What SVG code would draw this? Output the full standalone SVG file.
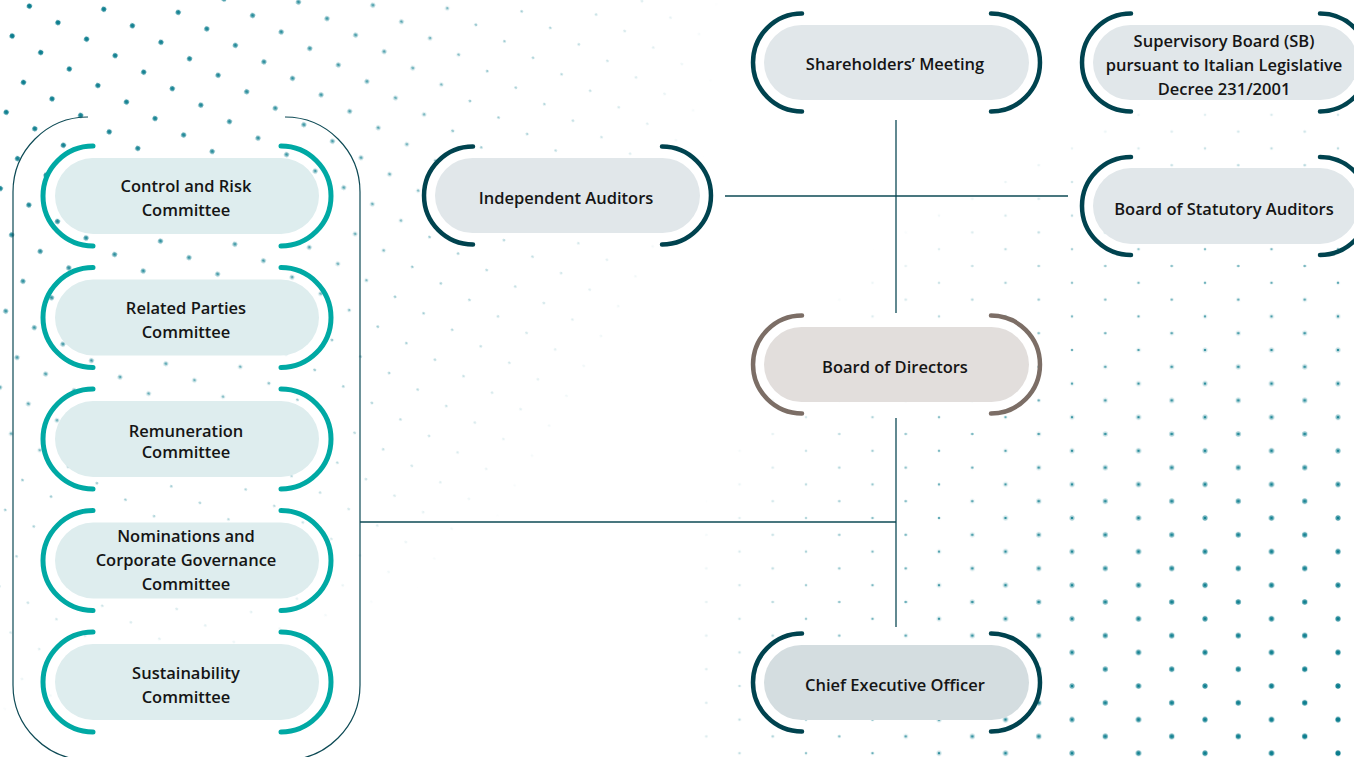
<svg xmlns="http://www.w3.org/2000/svg" width="1354" height="757" viewBox="0 0 1354 757">
<style>
.pill{stroke:none}
.p-dark{fill:#e1e7ea}
.p-ceo{fill:#d4dde0}
.p-bod{fill:#e2dedc}
.p-com{fill:#deedee}
.br{fill:none;stroke-linecap:round}
.br-dark{stroke:#00434f;stroke-width:4.5}
.br-bod{stroke:#7c6e66;stroke-width:4.5}
.br-com{stroke:#00a9a4;stroke-width:5}
.lbl{font-family:"Open Sans","Noto Sans","Liberation Sans",sans-serif;font-weight:600;font-size:16.5px;fill:#151515;text-anchor:middle;dominant-baseline:central}
.conn{stroke:#0d4a55;stroke-width:1.3;fill:none}
</style>
<defs>
<pattern id="tlSmall" width="33" height="34.5" patternUnits="userSpaceOnUse" patternTransform="rotate(30) translate(12,8)">
<circle cx="16.5" cy="17" r="1.2" fill="#087b8c"/>
</pattern>
<pattern id="tlBig" width="33" height="34.5" patternUnits="userSpaceOnUse" patternTransform="rotate(30) translate(12,8)">
<circle cx="16.5" cy="17" r="2.5" fill="#087b8c"/>
</pattern>
<pattern id="brSmall" width="66.5" height="33.6" patternUnits="userSpaceOnUse" patternTransform="translate(8,14)">
<circle cx="0" cy="0" r="1.3" fill="#087b8c"/>
<circle cx="66.5" cy="0" r="1.3" fill="#087b8c"/>
<circle cx="0" cy="33.6" r="1.3" fill="#087b8c"/>
<circle cx="66.5" cy="33.6" r="1.3" fill="#087b8c"/>
<circle cx="33.25" cy="16.8" r="1.3" fill="#087b8c"/>
</pattern>
<pattern id="brBig" width="66.5" height="33.6" patternUnits="userSpaceOnUse" patternTransform="translate(8,14)">
<circle cx="0" cy="0" r="2.6" fill="#087b8c"/>
<circle cx="66.5" cy="0" r="2.6" fill="#087b8c"/>
<circle cx="0" cy="33.6" r="2.6" fill="#087b8c"/>
<circle cx="66.5" cy="33.6" r="2.6" fill="#087b8c"/>
<circle cx="33.25" cy="16.8" r="2.6" fill="#087b8c"/>
</pattern>
<radialGradient id="gTLs" cx="0" cy="0" r="850" gradientUnits="userSpaceOnUse">
<stop offset="0" stop-color="#fff" stop-opacity="1"/>
<stop offset="0.45" stop-color="#fff" stop-opacity="0.65"/>
<stop offset="0.85" stop-color="#fff" stop-opacity="0"/>
</radialGradient>
<radialGradient id="gTLb" cx="0" cy="0" r="480" gradientUnits="userSpaceOnUse">
<stop offset="0" stop-color="#fff" stop-opacity="1"/>
<stop offset="0.4" stop-color="#fff" stop-opacity="0.8"/>
<stop offset="1" stop-color="#fff" stop-opacity="0"/>
</radialGradient>
<radialGradient id="gBRs" cx="1354" cy="757" r="700" gradientUnits="userSpaceOnUse">
<stop offset="0" stop-color="#fff" stop-opacity="1"/>
<stop offset="0.6" stop-color="#fff" stop-opacity="0.8"/>
<stop offset="1" stop-color="#fff" stop-opacity="0"/>
</radialGradient>
<radialGradient id="gBRb" cx="1354" cy="757" r="480" gradientUnits="userSpaceOnUse">
<stop offset="0" stop-color="#fff" stop-opacity="1"/>
<stop offset="0.5" stop-color="#fff" stop-opacity="0.7"/>
<stop offset="1" stop-color="#fff" stop-opacity="0"/>
</radialGradient>
<mask id="mTLs" maskUnits="userSpaceOnUse" x="0" y="0" width="1354" height="757"><rect width="1354" height="757" fill="url(#gTLs)"/></mask>
<mask id="mTLb" maskUnits="userSpaceOnUse" x="0" y="0" width="1354" height="757"><rect width="1354" height="757" fill="url(#gTLb)"/></mask>
<mask id="mBRs" maskUnits="userSpaceOnUse" x="0" y="0" width="1354" height="757"><rect width="1354" height="757" fill="url(#gBRs)"/></mask>
<mask id="mBRb" maskUnits="userSpaceOnUse" x="0" y="0" width="1354" height="757"><rect width="1354" height="757" fill="url(#gBRb)"/></mask>
</defs>
<rect width="1354" height="757" fill="#ffffff"/>
<g id="background-dots">
<rect width="1354" height="757" fill="url(#tlSmall)" mask="url(#mTLs)"/>
<rect width="1354" height="757" fill="url(#tlBig)" mask="url(#mTLb)"/>
<rect x="700" y="0" width="654" height="757" fill="url(#brSmall)" mask="url(#mBRs)"/>
<rect x="700" y="0" width="654" height="757" fill="url(#brBig)" mask="url(#mBRb)"/>
</g>
<g id="committees-container">
<path d="M88,117 A75,75 0 0 0 13,192 V685 A75,75 0 0 0 88,760 H285 A75,75 0 0 0 360,685 V192 A75,75 0 0 0 285,117" fill="none" stroke="#0d4a55" stroke-width="1.2"/>
</g>
<g id="connectors">
<line class="conn" x1="896" y1="120" x2="896" y2="313"/>
<line class="conn" x1="896" y1="418" x2="896" y2="627"/>
<line class="conn" x1="725" y1="196" x2="1068" y2="196"/>
<line class="conn" x1="360" y1="522" x2="896" y2="522"/>
</g>
<g id="shareholders-meeting">
<rect class="pill p-dark" x="764" y="25" width="265" height="75" rx="37.5"/>
<path class="br br-dark" d="M802,13.5 A49,49 0 0 0 802,111.5"/>
<path class="br br-dark" d="M991,13.5 A49,49 0 0 1 991,111.5"/>
<text class="lbl" x="895" y="63">Shareholders’ Meeting</text>
</g>
<g id="supervisory-board">
<rect class="pill p-dark" x="1093" y="25" width="265" height="75" rx="37.5"/>
<path class="br br-dark" d="M1131,13.5 A49,49 0 0 0 1131,111.5"/>
<path class="br br-dark" d="M1320,13.5 A49,49 0 0 1 1320,111.5"/>
<text class="lbl" x="1224" y="40">Supervisory Board (SB)</text>
<text class="lbl" x="1224" y="64">pursuant to Italian Legislative</text>
<text class="lbl" x="1224" y="88">Decree 231/2001</text>
</g>
<g id="independent-auditors">
<rect class="pill p-dark" x="435" y="158" width="265" height="75" rx="37.5"/>
<path class="br br-dark" d="M473,146.5 A49,49 0 0 0 473,244.5"/>
<path class="br br-dark" d="M662,146.5 A49,49 0 0 1 662,244.5"/>
<text class="lbl" x="566" y="197">Independent Auditors</text>
</g>
<g id="board-of-statutory-auditors">
<rect class="pill p-dark" x="1093" y="168" width="265" height="76" rx="38"/>
<path class="br br-dark" d="M1131,157 A49,49 0 0 0 1131,255"/>
<path class="br br-dark" d="M1320,157 A49,49 0 0 1 1320,255"/>
<text class="lbl" x="1224" y="208">Board of Statutory Auditors</text>
</g>
<g id="board-of-directors">
<rect class="pill p-bod" x="764" y="327" width="265" height="75" rx="37.5"/>
<path class="br br-bod" d="M802,315.5 A49,49 0 0 0 802,413.5"/>
<path class="br br-bod" d="M991,315.5 A49,49 0 0 1 991,413.5"/>
<text class="lbl" x="895" y="366">Board of Directors</text>
</g>
<g id="chief-executive-officer">
<rect class="pill p-ceo" x="764" y="645" width="265" height="75" rx="37.5"/>
<path class="br br-dark" d="M802,633.5 A49,49 0 0 0 802,731.5"/>
<path class="br br-dark" d="M991,633.5 A49,49 0 0 1 991,731.5"/>
<text class="lbl" x="895" y="684">Chief Executive Officer</text>
</g>
<g id="control-and-risk-committee">
<rect class="pill p-com" x="55" y="158" width="264" height="76" rx="38"/>
<path class="br br-com" d="M93,146 A50,50 0 0 0 93,246"/>
<path class="br br-com" d="M281,146 A50,50 0 0 1 281,246"/>
<text class="lbl" x="186" y="185">Control and Risk</text>
<text class="lbl" x="186" y="209">Committee</text>
</g>
<g id="related-parties-committee">
<rect class="pill p-com" x="55" y="279.5" width="264" height="76" rx="38"/>
<path class="br br-com" d="M93,267.5 A50,50 0 0 0 93,367.5"/>
<path class="br br-com" d="M281,267.5 A50,50 0 0 1 281,367.5"/>
<text class="lbl" x="186" y="307">Related Parties</text>
<text class="lbl" x="186" y="331">Committee</text>
</g>
<g id="remuneration-committee">
<rect class="pill p-com" x="55" y="401" width="264" height="76" rx="38"/>
<path class="br br-com" d="M93,389 A50,50 0 0 0 93,489"/>
<path class="br br-com" d="M281,389 A50,50 0 0 1 281,489"/>
<text class="lbl" x="186" y="430">Remuneration</text>
<text class="lbl" x="186" y="451">Committee</text>
</g>
<g id="nominations-committee">
<rect class="pill p-com" x="55" y="522.5" width="264" height="76" rx="38"/>
<path class="br br-com" d="M93,510.5 A50,50 0 0 0 93,610.5"/>
<path class="br br-com" d="M281,510.5 A50,50 0 0 1 281,610.5"/>
<text class="lbl" x="186" y="535">Nominations and</text>
<text class="lbl" x="186" y="559">Corporate Governance</text>
<text class="lbl" x="186" y="583">Committee</text>
</g>
<g id="sustainability-committee">
<rect class="pill p-com" x="55" y="644" width="264" height="76" rx="38"/>
<path class="br br-com" d="M93,632 A50,50 0 0 0 93,732"/>
<path class="br br-com" d="M281,632 A50,50 0 0 1 281,732"/>
<text class="lbl" x="186" y="672">Sustainability</text>
<text class="lbl" x="186" y="696">Committee</text>
</g>
</svg>
